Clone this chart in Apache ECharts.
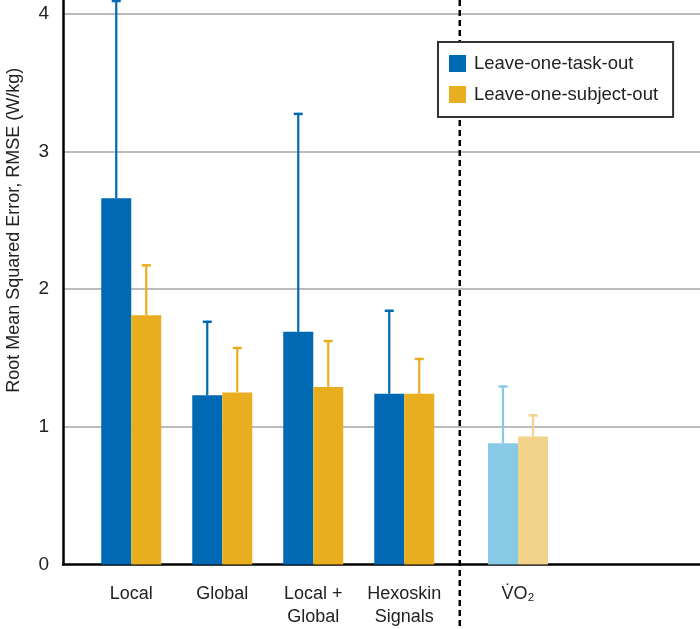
<!DOCTYPE html>
<html>
<head>
<meta charset="utf-8">
<script src="https://cdn.jsdelivr.net/npm/echarts@6/dist/echarts.min.js"></script>
<style>
  html, body { margin: 0; padding: 0; background: #fff; }
  #main { width: 700px; height: 629px; }
</style>
</head>
<body>
<div id="main"></div>
<script>
// categories and their place on the x axis (VO2 sits apart, past the divider)
const categories = ['Local', 'Global', 'Local +\nGlobal', 'Hexoskin\nSignals', 'V̇O₂']
const groupX = [1, 2, 3, 4, 5.25]
const dividerX = 4.61

// RMSE means and top of error bar (W/kg)
const taskOut = [2.66, 1.23, 1.69, 1.24, 0.88]
const taskOutUpper = [4.10, 1.77, 3.28, 1.85, 1.30]
const subjectOut = [1.81, 1.25, 1.29, 1.24, 0.93]
const subjectOutUpper = [2.18, 1.58, 1.63, 1.50, 1.09]

const yTicks = [0, 1, 2, 3, 4]

const BLUE = '#0069b3'
const YELLOW = '#e9ae20'
const BLUE_LIGHT = '#88c9e6'
const YELLOW_LIGHT = '#f1d38c'
const BAR_W = 30

const chart = echarts.init(document.getElementById('main'))

const lastIdx = categories.length - 1
const barData = (vals, light) => vals.map((v, i) => ({
  value: [groupX[i], v],
  itemStyle: i === lastIdx ? { color: light } : undefined
}))
const errData = (vals, upper) => vals.map((v, i) => [groupX[i], v, upper[i]])

// one-sided (upward) error bar, shifted to the middle of its bar
const errSeries = (vals, upper, color, light, offset) => ({
  type: 'custom',
  data: errData(vals, upper),
  clip: false,
  silent: true,
  z: 3,
  renderItem: (params, api) => {
    const lo = api.coord([api.value(0), api.value(1)])
    const hi = api.coord([api.value(0), api.value(2)])
    const x = lo[0] + offset
    const c = params.dataIndex === lastIdx ? light : color
    const style = { stroke: c, lineWidth: 2.2 }
    return {
      type: 'group',
      children: [
        { type: 'line', shape: { x1: x, y1: lo[1], x2: x, y2: hi[1] }, style },
        { type: 'line', shape: { x1: x - 4.5, y1: hi[1] + 1, x2: x + 4.5, y2: hi[1] + 1 }, style: { stroke: c, lineWidth: 2.5 } }
      ]
    }
  }
})

const option = {
  animation: false,
  textStyle: { fontFamily: 'Liberation Sans, Arial, sans-serif' },
  grid: { left: 63, right: 0, top: 0, bottom: 64.5, containLabel: false, outerBoundsMode: 'none' },
  legend: {
    orient: 'vertical',
    left: 438,
    top: 42,
    z: 10,
    padding: [12, 15, 13, 11],
    itemGap: 12,
    itemWidth: 17,
    itemHeight: 17,
    icon: 'rect',
    borderColor: '#333',
    borderWidth: 2,
    backgroundColor: '#fff',
    textStyle: { fontSize: 18.5, color: '#222', padding: [0, 0, 0, 3] },
    data: ['Leave-one-task-out', 'Leave-one-subject-out']
  },
  xAxis: {
    type: 'value',
    min: 0.25,
    max: 7.25,
    splitLine: { show: false },
    axisTick: { show: false },
    axisLine: { lineStyle: { color: '#000', width: 2.5 } },
    axisLabel: {
      customValues: groupX,
      margin: 18,
      fontSize: 18,
      lineHeight: 23,
      color: '#222',
      formatter: (v) => {
        const i = groupX.indexOf(v)
        return i >= 0 ? categories[i] : ''
      }
    }
  },
  yAxis: {
    type: 'value',
    min: 0,
    max: 4.1,
    interval: 1,
    name: 'Root Mean Squared Error, RMSE (W/kg)',
    nameLocation: 'middle',
    nameGap: 40,
    nameTextStyle: { fontSize: 18, color: '#222', padding: [0, 0, 0, 104] },
    axisTick: { show: false },
    axisLine: { show: true, lineStyle: { color: '#000', width: 2.5 } },
    axisLabel: {
      fontSize: 19,
      color: '#222',
      margin: 14,
      showMaxLabel: false,
      formatter: (v) => yTicks.includes(v) ? String(v) : ''
    },
    splitLine: { show: true, showMinLine: false, showMaxLine: false, lineStyle: { color: '#bbb', width: 2 } }
  },
  series: [
    {
      name: 'Leave-one-task-out',
      type: 'bar',
      barWidth: BAR_W,
      barGap: '0%',
      itemStyle: { color: BLUE },
      data: barData(taskOut, BLUE_LIGHT)
    },
    {
      name: 'Leave-one-subject-out',
      type: 'bar',
      barWidth: BAR_W,
      barGap: '0%',
      itemStyle: { color: YELLOW },
      data: barData(subjectOut, YELLOW_LIGHT)
    },
    errSeries(taskOut, taskOutUpper, BLUE, BLUE_LIGHT, -BAR_W / 2),
    errSeries(subjectOut, subjectOutUpper, YELLOW, YELLOW_LIGHT, BAR_W / 2),
    {
      // dashed divider, from the top of the plot down past the x axis
      type: 'custom',
      data: [[dividerX]],
      clip: false,
      silent: true,
      z: 2,
      renderItem: (params, api) => {
        const top = api.coord([api.value(0), 4.1])
        const base = api.coord([api.value(0), 0])
        return {
          type: 'line',
          shape: { x1: top[0], y1: top[1], x2: base[0], y2: base[1] + 66 },
          style: { stroke: '#000', lineWidth: 2.5, lineDash: [6, 4] }
        }
      }
    }
  ]
}

option && chart.setOption(option)
</script>
</body>
</html>
